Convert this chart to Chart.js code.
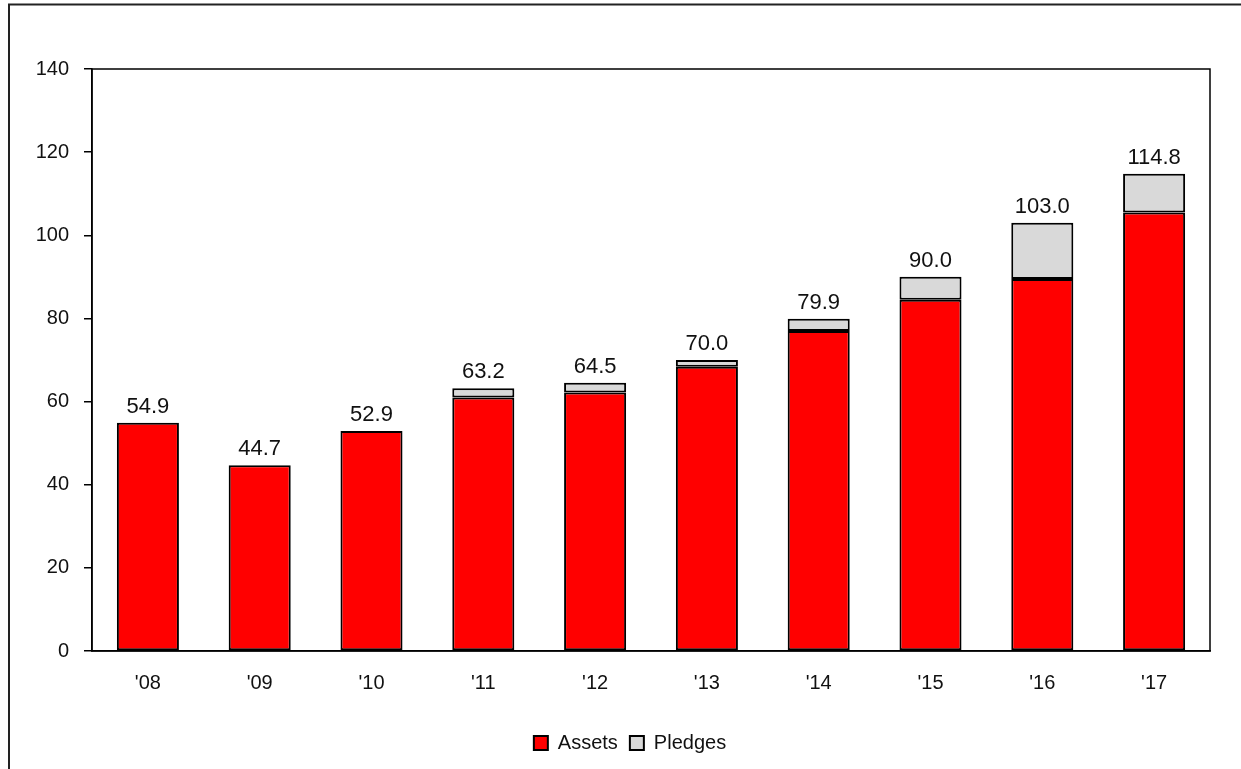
<!DOCTYPE html>
<html>
<head>
<meta charset="utf-8">
<script src="https://cdn.jsdelivr.net/npm/chart.js@4.4.1/dist/chart.umd.min.js"></script>
<style>
  html, body { margin: 0; padding: 0; background: #fff; }
  #wrap { position: relative; width: 1241px; height: 769px; }
</style>
</head>
<body>
<div id="wrap"><canvas id="c" width="1241" height="769"></canvas></div>
<script>
const categories = ["'08", "'09", "'10", "'11", "'12", "'13", "'14", "'15", "'16", "'17"];
const assets = [54.9, 44.7, 52.9, 61.0, 62.2, 68.4, 77.0, 84.5, 89.5, 105.5];
const pledges = [0, 0, 0, 2.2, 2.3, 1.6, 2.9, 5.5, 13.5, 9.3];
const totals = [54.9, 44.7, 52.9, 63.2, 64.5, 70.0, 79.9, 90.0, 103.0, 114.8];
const yTicks = [0, 20, 40, 60, 80, 100, 120, 140];

const FONT = "'Liberation Sans', Arial, sans-serif";

const framePlugin = {
  id: 'frame',
  afterLayout(chart) {
    const lg = chart.legend;
    if (lg) { lg.left = 50; lg.width = lg.right - lg.left; }
  },
  beforeDraw(chart) {
    const ctx = chart.ctx;
    ctx.save();
    ctx.fillStyle = '#fff';
    ctx.fillRect(0, 0, chart.width, chart.height);
    ctx.strokeStyle = '#222';
    ctx.lineWidth = 2;
    ctx.strokeRect(9, 4.5, 2000, 2000);
    ctx.restore();
  },
  afterDraw(chart) {
    const a = chart.chartArea;
    const ctx = chart.ctx;
    ctx.save();
    ctx.strokeStyle = '#000';
    ctx.lineWidth = 1.5;
    ctx.strokeRect(a.left, a.top, a.right - a.left, a.bottom - a.top);
    ctx.restore();
  }
};

const totalsPlugin = {
  id: 'totals',
  afterDatasetsDraw(chart) {
    const ctx = chart.ctx;
    const x = chart.scales.x, y = chart.scales.y;
    ctx.save();
    ctx.font = "22px " + FONT;
    ctx.fillStyle = '#111';
    ctx.textAlign = 'center';
    ctx.textBaseline = 'alphabetic';
    totals.forEach((t, i) => {
      ctx.fillText(t.toFixed(1), x.getPixelForValue(i), y.getPixelForValue(t) - 10);
    });
    ctx.restore();
  }
};

new Chart(document.getElementById('c'), {
  type: 'bar',
  data: {
    labels: categories,
    datasets: [
      { label: 'Assets', data: assets, backgroundColor: '#ff0000', borderColor: '#000', borderWidth: 2, borderSkipped: false },
      { label: 'Pledges', data: pledges, backgroundColor: '#d9d9d9', borderColor: '#000', borderWidth: 2, borderSkipped: false }
    ]
  },
  options: {
    responsive: false,
    animation: false,
    devicePixelRatio: 1,
    datasets: { bar: { barPercentage: 0.555, categoryPercentage: 1.0 } },
    layout: { padding: { left: 0, right: 31, top: 69, bottom: 6 } },
    plugins: {
      legend: {
        position: 'bottom',
        labels: {
          font: { family: FONT, size: 20 },
          color: '#111',
          boxWidth: 14,
          boxHeight: 14,
          padding: 12
        }
      },
      tooltip: { enabled: false }
    },
    scales: {
      x: {
        stacked: true,
        grid: { display: false, drawTicks: false },
        border: { display: true, color: '#000', width: 1.5 },
        ticks: { font: { family: FONT, size: 20 }, color: '#111', padding: 20 },
        afterFit(s) { s.height = 70; }
      },
      y: {
        stacked: true,
        min: 0, max: 140,
        afterBuildTicks(s) { s.ticks = yTicks.map(v => ({ value: v })); },
        grid: { drawOnChartArea: false, drawTicks: true, tickLength: 8, color: '#000', lineWidth: 1.5 },
        border: { display: true, color: '#000', width: 1.5 },
        ticks: { font: { family: FONT, size: 20 }, color: '#111', padding: 15 },
        afterFit(s) { s.width = 92; }
      }
    }
  },
  plugins: [framePlugin, totalsPlugin]
});
</script>
</body>
</html>
